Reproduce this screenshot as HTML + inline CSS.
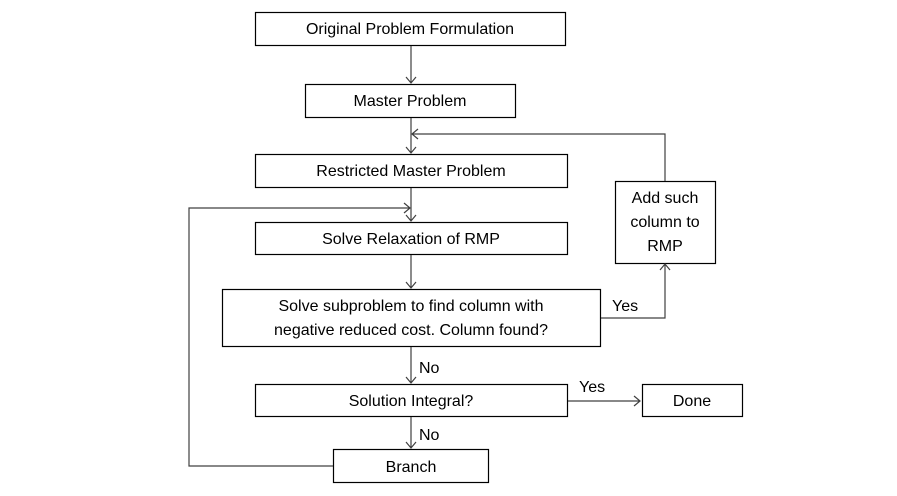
<!DOCTYPE html>
<html><head><style>
html,body{margin:0;padding:0;background:#fff;}
svg text{font-family:"Liberation Sans",sans-serif;font-size:16px;fill:#000;}
</style></head><body>
<svg width="897" height="491" viewBox="0 0 897 491" xmlns="http://www.w3.org/2000/svg">
<g fill="#fff" stroke="#000" stroke-width="1.2">
<rect x="255.5" y="12.5" width="310" height="33"/>
<rect x="305.5" y="84.5" width="210" height="33"/>
<rect x="255.5" y="154.5" width="312" height="33"/>
<rect x="255.5" y="222.5" width="312" height="32"/>
<rect x="222.5" y="289.5" width="378" height="57"/>
<rect x="615.5" y="181.5" width="100" height="82"/>
<rect x="255.5" y="384.5" width="312" height="32"/>
<rect x="642.5" y="384.5" width="100" height="32"/>
<rect x="333.5" y="449.5" width="155" height="33"/>
</g>
<g fill="none" stroke="#404040" stroke-width="1.2">
<path d="M411 46V83M406 77l5 6 5-6"/>
<path d="M411 118V153M406 147l5 6 5-6"/>
<path d="M411 188V221M406 215l5 6 5-6"/>
<path d="M411 255V288M406 282l5 6 5-6"/>
<path d="M411 347V383M406 377l5 6 5-6"/>
<path d="M411 417V448M406 442l5 6 5-6"/>
<path d="M601 318H665V265M660 270l5-6 5 6"/>
<path d="M665 181V134H412M418 129l-6 5 6 5"/>
<path d="M333 466H189V208H410M404 203l6 5-6 5"/>
<path d="M568 401H640M634 396l6 5-6 5"/>
</g>
<g text-anchor="middle">
<text x="410" y="34">Original Problem Formulation</text>
<text x="410" y="106">Master Problem</text>
<text x="411" y="176">Restricted Master Problem</text>
<text x="411" y="244">Solve Relaxation of RMP</text>
<text x="411" y="311">Solve subproblem to find column with</text>
<text x="411" y="335">negative reduced cost.  Column found?</text>
<text x="665" y="203">Add such</text>
<text x="665" y="227">column to</text>
<text x="665" y="251">RMP</text>
<text x="411" y="406">Solution Integral?</text>
<text x="692" y="406">Done</text>
<text x="411" y="472">Branch</text>
</g>
<text x="612" y="311">Yes</text>
<text x="419" y="373">No</text>
<text x="579" y="392">Yes</text>
<text x="419" y="440">No</text>
</svg>
</body></html>
